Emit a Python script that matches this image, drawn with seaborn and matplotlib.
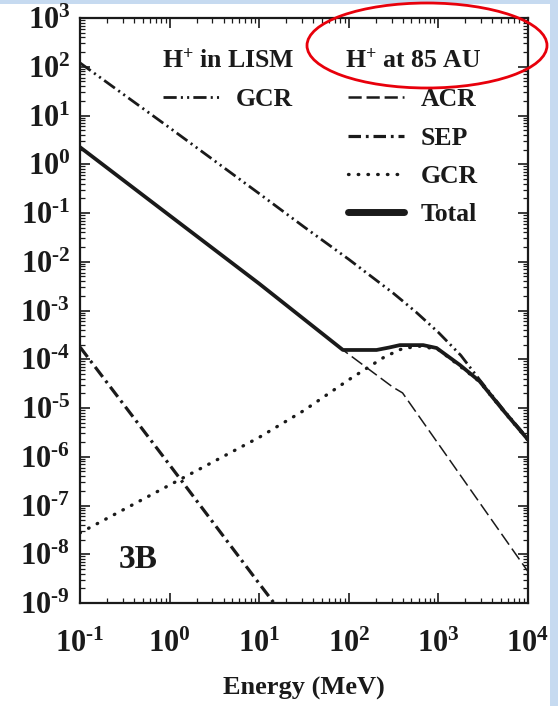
import numpy as np
import pandas as pd
import matplotlib
matplotlib.use("Agg")
import matplotlib.pyplot as plt
import seaborn as sns
from matplotlib.lines import Line2D
from matplotlib.patches import Ellipse, Rectangle
from matplotlib.ticker import LogLocator, FixedLocator, FuncFormatter, NullFormatter

# ---------------- data (MeV vs flux) ----------------
energy_lism = [0.1, 1, 10, 31.6, 100, 316, 562, 1000, 1780, 2880, 5250, 10000]
flux_lism_gcr = [120, 5.6, 0.25, 5.2e-2, 1.12e-2, 2.24e-3, 9.3e-4, 3.55e-4,
                 1.2e-4, 3.8e-5, 9.5e-6, 2.34e-6]

energy_acr = [0.1, 1, 10, 86, 309, 398, 1260, 10000]
flux_acr = [2.24, 8.9e-2, 3.55e-3, 1.55e-4, 2.69e-5, 2.04e-5, 1.0e-6, 4.4e-9]

energy_sep = [0.1, 1, 10, 20]
flux_sep = [1.78e-4, 6.8e-7, 2.5e-9, 4.7e-10]

energy_gcr = [0.1, 1, 10, 31.6, 100, 251, 398, 631, 1000, 1740, 2880, 5250, 10000]
flux_gcr = [2.75e-8, 2.63e-7, 2.5e-6, 8.9e-6, 3.8e-5, 1.12e-4, 1.66e-4, 1.86e-4,
            1.58e-4, 7.2e-5, 3.47e-5, 8.9e-6, 2.19e-6]

energy_total = [0.1, 1, 10, 86, 204, 282, 372, 676, 955, 1740, 2880, 5250, 10000]
flux_total = [2.24, 8.9e-2, 3.55e-3, 1.55e-4, 1.55e-4, 1.74e-4, 1.95e-4, 1.95e-4,
              1.70e-4, 7.6e-5, 3.55e-5, 9.1e-6, 2.24e-6]

x_ticks = [0.1, 1, 10, 100, 1000, 10000]
y_ticks = [1e-9, 1e-8, 1e-7, 1e-6, 1e-5, 1e-4, 1e-3, 1e-2, 1e-1, 1, 10, 100, 1000]

legend1_title = "H$^{+}$ in LISM"
legend1_labels = ["GCR"]
legend2_title = "H$^{+}$ at 85 AU"
legend2_labels = ["ACR", "SEP", "GCR", "Total"]
panel_label = "3B"
x_label = "Energy (MeV)"

# ---------------- style ----------------
sns.set_style("ticks")
plt.rcParams["font.family"] = ["Liberation Serif", "DejaVu Serif"]
plt.rcParams["font.weight"] = "bold"
plt.rcParams["mathtext.fontset"] = "custom"
plt.rcParams["mathtext.rm"] = "Liberation Serif:bold"
plt.rcParams["mathtext.bf"] = "Liberation Serif:bold"
plt.rcParams["mathtext.it"] = "Liberation Serif:bold"
plt.rcParams["mathtext.default"] = "bf"
plt.rcParams["lines.scale_dashes"] = False

INK = "#1a1a1a"
BLUE_BG = "#c6daf0"

W, H = 558, 706
fig = plt.figure(figsize=(W / 100, H / 100), dpi=100)
fig.patch.set_facecolor(BLUE_BG)
fig.patches.append(Rectangle((0, 0), 550 / W, (H - 4) / H, transform=fig.transFigure,
                             facecolor="white", edgecolor="none", zorder=-10))

ax = fig.add_axes([80 / W, (H - 603) / H, 448 / W, 585 / H])
ax.set_xscale("log")
ax.set_yscale("log")

style_lism = dict(lw=2.0, linestyle=(0, (9.5, 3, 1.5, 3, 1.5, 3)))
style_acr = dict(lw=1.1, linestyle=(0, (9.5, 3.5)))
style_sep = dict(lw=2.3, linestyle=(0, (9, 3.5, 2, 3.5)))
style_gcr = dict(lw=2.4, linestyle=(0, (0.4, 6.6)), dash_capstyle="round")
style_total = dict(lw=2.7, linestyle="-")

def draw(xs, ys, st):
    df = pd.DataFrame({"E": xs, "F": ys})
    sns.lineplot(data=df, x="E", y="F", ax=ax, color=INK, sort=False,
                 estimator=None, legend=False, **st)

draw(energy_gcr, flux_gcr, style_gcr)
draw(energy_sep, flux_sep, style_sep)
draw(energy_lism, flux_lism_gcr, style_lism)
draw(energy_acr, flux_acr, style_acr)
draw(energy_total, flux_total, style_total)

ax.set_xlim(0.1, 1e4)
ax.set_ylim(1e-9, 1e3)

def fmt_fn(v, p):
    e = int(round(np.log10(v)))
    s = str(e).replace("-", "\u2010")
    return r"$10^{%s}$" % s

fmt = FuncFormatter(fmt_fn)
ax.xaxis.set_major_locator(FixedLocator(x_ticks))
ax.yaxis.set_major_locator(FixedLocator(y_ticks))
ax.xaxis.set_major_formatter(fmt)
ax.yaxis.set_major_formatter(fmt)
ax.xaxis.set_minor_locator(LogLocator(base=10, subs=np.arange(2, 10), numticks=50))
ax.yaxis.set_minor_locator(LogLocator(base=10, subs=np.arange(2, 10), numticks=50))
ax.xaxis.set_minor_formatter(NullFormatter())
ax.yaxis.set_minor_formatter(NullFormatter())

ax.tick_params(which="both", direction="in", top=True, right=True, colors=INK,
               labelcolor=INK)
ax.tick_params(which="major", length=7, width=1.2, labelsize=22)
ax.tick_params(which="minor", length=3.5, width=0.9)
ax.tick_params(axis="x", which="major", pad=19)
ax.tick_params(axis="y", which="major", pad=7)
for s in ax.spines.values():
    s.set_linewidth(1.6)
    s.set_color(INK)

ax.set_xlabel(x_label, fontsize=19, fontweight="bold", color=INK, labelpad=13)
ax.set_ylabel("")

ax.text(0.129, 0.075, panel_label, transform=ax.transAxes, fontsize=24,
        fontweight="bold", ha="center", va="center", color=INK)

# ---------------- legends ----------------
def handle(st, lw=None):
    kw = dict(color=INK, lw=lw if lw else st["lw"], linestyle=st["linestyle"])
    if "dash_capstyle" in st:
        kw["dash_capstyle"] = st["dash_capstyle"]
    return Line2D([], [], **kw)

leg_kw = dict(frameon=False, fontsize=18.5, title_fontsize=18.5, handlelength=2.2,
              handletextpad=0.65, labelspacing=0.6, borderpad=0, borderaxespad=0)
leg1 = ax.legend([handle(style_lism)], legend1_labels, title=legend1_title,
                 loc="upper center", bbox_to_anchor=(228 / W, 1 - 49 / H),
                 bbox_transform=fig.transFigure, **leg_kw)
ax.add_artist(leg1)
leg2 = ax.legend([handle(style_acr, 1.8), handle(style_sep), handle(style_gcr),
                  handle(style_total, 5)], legend2_labels, title=legend2_title,
                 loc="upper center", bbox_to_anchor=(413 / W, 1 - 49 / H),
                 bbox_transform=fig.transFigure, **leg_kw)
for lg in (leg1, leg2):
    lg.get_title().set_fontweight("bold")
    lg.get_title().set_color(INK)
    lg._legend_box.sep = 11
    for t in lg.get_texts():
        t.set_color(INK)

# red highlight ellipse around the second legend title
fig.patches.append(Ellipse((427 / W, 1 - 45.5 / H), 240 / W, 85 / H,
                           transform=fig.transFigure, fill=False,
                           edgecolor="#e8000b", lw=2.0, zorder=10))

fig.savefig("out.png", dpi=100, facecolor=fig.get_facecolor())
